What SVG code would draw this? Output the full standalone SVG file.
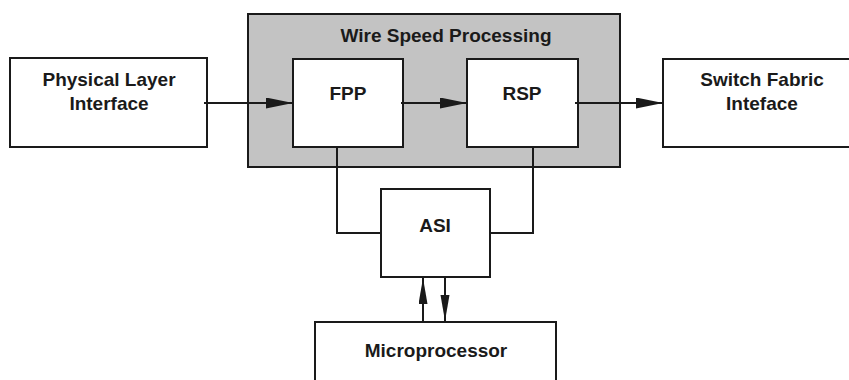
<svg xmlns="http://www.w3.org/2000/svg" width="849" height="380" viewBox="0 0 849 380">
  <defs>
    <style>
      .box { fill: #ffffff; stroke: #1a1a1a; stroke-width: 2; }
      .group { fill: #c3c3c3; stroke: #1a1a1a; stroke-width: 2; }
      .lbl { font-family: "Liberation Sans", Arial, Helvetica, sans-serif; font-weight: bold; font-size: 19px; fill: #1a1a1a; text-anchor: middle; }
      .wire { fill: none; stroke: #1a1a1a; stroke-width: 2; }
    </style>
    <marker id="arr" markerUnits="userSpaceOnUse" markerWidth="28" markerHeight="12" refX="27" refY="5.5" orient="auto">
      <path d="M0,0 L27,5.5 L0,11 z" fill="#1a1a1a"/>
    </marker>
    <marker id="arrv" markerUnits="userSpaceOnUse" markerWidth="28" markerHeight="10" refX="26" refY="4.5" orient="auto">
      <path d="M0,0 L26,4.5 L0,9 z" fill="#1a1a1a"/>
    </marker>
  </defs>
  <rect width="849" height="380" fill="#ffffff"/>

  <g id="wire-speed-processing">
    <rect class="group" x="248" y="14" width="372" height="153"/>
    <text class="lbl" x="446" y="42">Wire Speed Processing</text>
  </g>

  <g id="physical-layer-interface">
    <rect class="box" x="10" y="58" width="197" height="89"/>
    <text class="lbl" x="109" y="86">Physical Layer</text>
    <text class="lbl" x="109" y="110">Interface</text>
  </g>

  <g id="fpp">
    <rect class="box" x="293" y="59" width="110" height="88"/>
    <text class="lbl" x="348" y="100">FPP</text>
  </g>

  <g id="rsp">
    <rect class="box" x="467" y="59" width="111" height="88"/>
    <text class="lbl" x="522" y="100">RSP</text>
  </g>

  <g id="switch-fabric-interface">
    <rect class="box" x="663" y="59" width="200" height="88"/>
    <text class="lbl" x="762" y="86">Switch Fabric</text>
    <text class="lbl" x="762" y="110">Inteface</text>
  </g>

  <g id="asi">
    <rect class="box" x="381" y="189" width="109" height="88"/>
    <text class="lbl" x="435" y="232">ASI</text>
  </g>

  <g id="microprocessor">
    <rect class="box" x="315" y="322" width="241" height="70"/>
    <text class="lbl" x="436" y="357">Microprocessor</text>
  </g>

  <g id="connectors">
    <line class="wire" x1="204" y1="103" x2="293" y2="103" marker-end="url(#arr)"/>
    <line class="wire" x1="401" y1="103" x2="467" y2="103" marker-end="url(#arr)"/>
    <line class="wire" x1="575" y1="103" x2="663" y2="103" marker-end="url(#arr)"/>
    <polyline class="wire" points="337,147 337,233 381,233"/>
    <polyline class="wire" points="533,147 533,233 490,233"/>
    <line class="wire" x1="423" y1="322" x2="423" y2="278" marker-end="url(#arrv)"/>
    <line class="wire" x1="445" y1="277" x2="445" y2="321" marker-end="url(#arrv)"/>
  </g>
</svg>
